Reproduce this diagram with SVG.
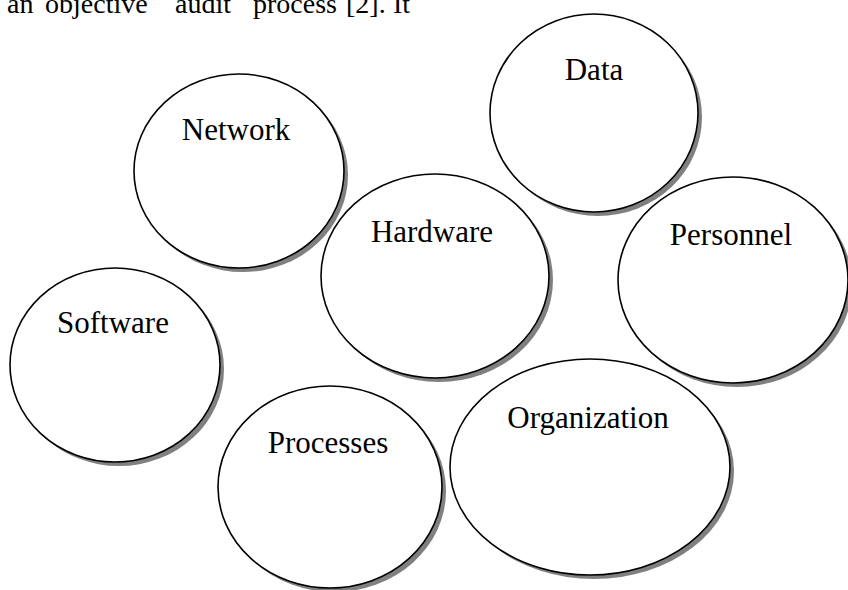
<svg xmlns="http://www.w3.org/2000/svg" width="848" height="590" viewBox="0 0 848 590">
<style>
.sh{fill:#808080;stroke:none}
.el{fill:#fff;stroke:#000;stroke-width:1.6}
.lb{font-family:"Liberation Serif","Times New Roman",serif;font-size:31px;fill:#000;text-anchor:middle}
.tx{font-family:"Liberation Serif","Times New Roman",serif;font-size:28px;fill:#000}
</style>
<rect width="848" height="590" fill="#fff"/>
<text class="tx" y="13"><tspan x="7">an</tspan><tspan x="45">objective</tspan><tspan x="175">audit</tspan><tspan x="253">process</tspan><tspan x="346">[2].</tspan><tspan x="393">It</tspan></text>
<g id="data"><ellipse class="sh" cx="598" cy="117" rx="104" ry="99"/><ellipse class="el" cx="594" cy="113" rx="104" ry="99"/><text class="lb" x="594" y="80">Data</text></g>
<g id="network"><ellipse class="sh" cx="243" cy="175" rx="105" ry="97"/><ellipse class="el" cx="239" cy="171" rx="105" ry="97"/><text class="lb" x="236" y="140">Network</text></g>
<g id="hardware"><ellipse class="sh" cx="439" cy="280" rx="114" ry="102"/><ellipse class="el" cx="435" cy="276" rx="114" ry="102"/><text class="lb" x="432" y="242">Hardware</text></g>
<g id="personnel"><ellipse class="sh" cx="737" cy="284" rx="115" ry="103"/><ellipse class="el" cx="733" cy="280" rx="115" ry="103"/><text class="lb" x="731" y="245">Personnel</text></g>
<g id="software"><ellipse class="sh" cx="119" cy="369" rx="105" ry="97"/><ellipse class="el" cx="115" cy="365" rx="105" ry="97"/><text class="lb" x="113" y="333">Software</text></g>
<g id="processes"><ellipse class="sh" cx="334" cy="491" rx="112" ry="101"/><ellipse class="el" cx="330" cy="487" rx="112" ry="101"/><text class="lb" x="328" y="453">Processes</text></g>
<g id="organization"><ellipse class="sh" cx="594" cy="471" rx="140" ry="108"/><ellipse class="el" cx="590" cy="467" rx="140" ry="108"/><text class="lb" x="588" y="428">Organization</text></g>
<g id="connectors"/>
</svg>
